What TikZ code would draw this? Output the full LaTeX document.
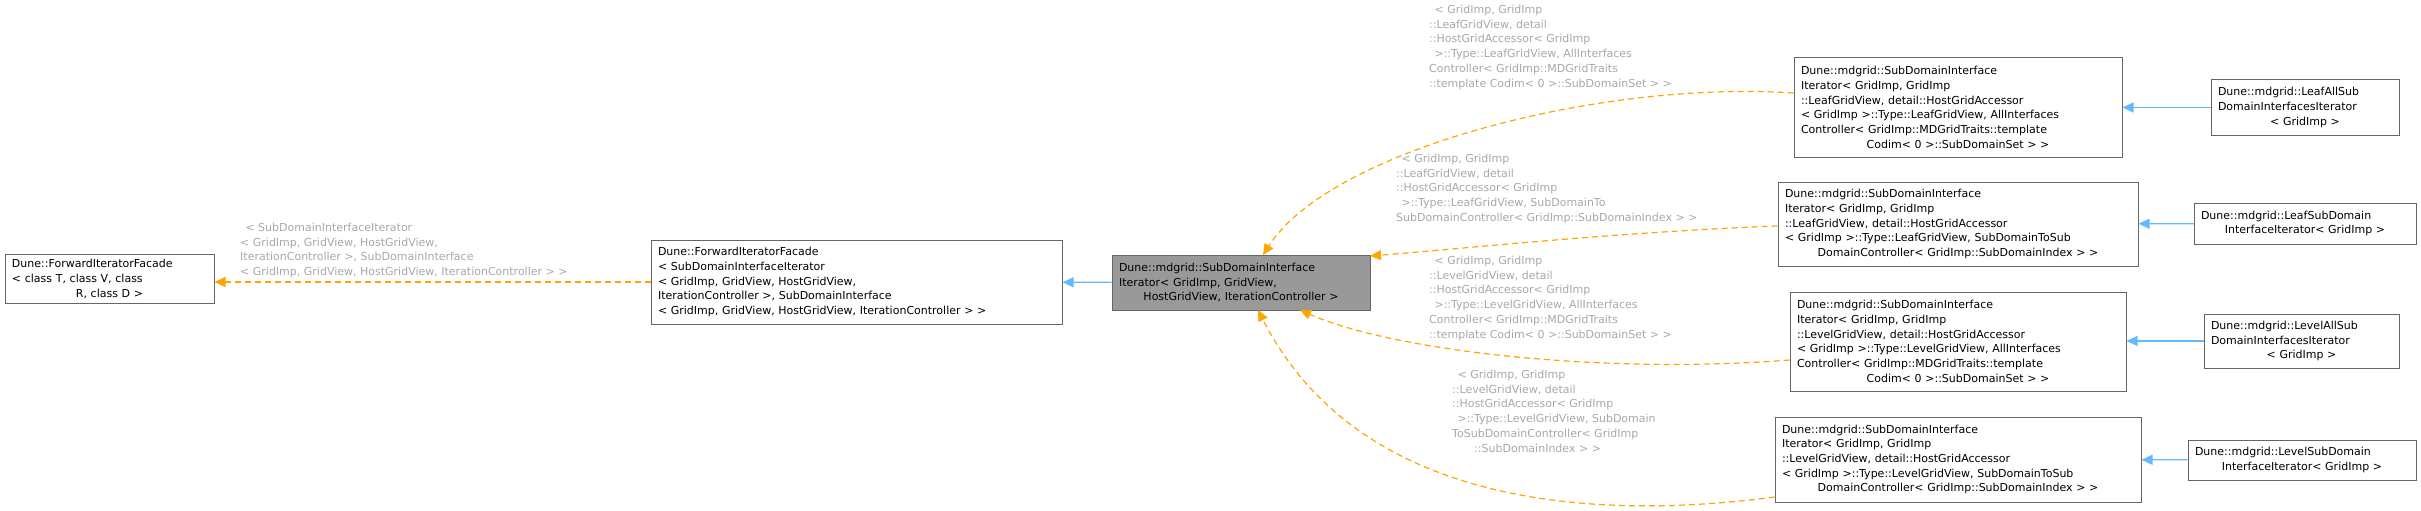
\documentclass[tikz,border=0pt]{standalone}
\usepackage{fontspec}
\setmainfont{DejaVu Sans}
\usetikzlibrary{arrows.meta}
\definecolor{bord}{HTML}{666666}
\definecolor{gfill}{HTML}{999999}
\definecolor{inh}{HTML}{63B8FF}
\definecolor{tmpl}{HTML}{FFA500}
\definecolor{lbl}{HTML}{A8A8A8}
\newcommand{\cln}[1]{\makebox[\linewidth][c]{#1}}
\tikzset{
 cls/.style={draw=bord, line width=1pt, fill=white, inner xsep=7pt, inner ysep=0pt, align=left,
   font=\fontsize{11}{14.7}\selectfont, anchor=center},
 cur/.style={cls, fill=gfill},
 pub/.style={-{Triangle[length=11pt,width=10pt,fill=inh]}, draw=inh, line width=1.2pt},
 tpl/.style={-{Triangle[length=11pt,width=10pt,fill=tmpl]}, draw=tmpl, line width=1.2pt, dash pattern=on 6pt off 4pt},
 lab/.style={text=lbl, align=left, inner sep=0pt, anchor=north west, font=\fontsize{11}{14.7}\selectfont}
}
\begin{document}
\begin{tikzpicture}[x=1pt,y=-1pt]
\useasboundingbox (0,0) rectangle (2421,511);
% nodes
\node[cls, text width=195pt, minimum height=49pt] (A) at (109.5,279) {Dune::ForwardIteratorFacade\\{}< class T, class V, class\\\cln{R, class D >}};
\node[cls, text width=397pt, minimum height=84pt] (B) at (856.5,282) {Dune::ForwardIteratorFacade\\{}< SubDomainInterfaceIterator\\{}< GridImp, GridView, HostGridView,\\ IterationController >, SubDomainInterface\\{}< GridImp, GridView, HostGridView, IterationController > >};
\node[cur, text width=244pt, minimum height=55pt] (C) at (1241,282.5) {Dune::mdgrid::SubDomainInterface\\Iterator< GridImp, GridView,\\\cln{HostGridView, IterationController >}};
\node[cls, text width=314pt, minimum height=99pt] (D1) at (1958,107.5) {Dune::mdgrid::SubDomainInterface\\Iterator< GridImp, GridImp\\::LeafGridView, detail::HostGridAccessor\\{}< GridImp >::Type::LeafGridView, AllInterfaces\\Controller< GridImp::MDGridTraits::template\\\cln{Codim< 0 >::SubDomainSet > >}};
\node[cls, text width=346pt, minimum height=84pt] (D2) at (1958,224) {Dune::mdgrid::SubDomainInterface\\Iterator< GridImp, GridImp\\::LeafGridView, detail::HostGridAccessor\\{}< GridImp >::Type::LeafGridView, SubDomainToSub\\\cln{DomainController< GridImp::SubDomainIndex > >}};
\node[cls, text width=322pt, minimum height=99pt] (D3) at (1958,341.5) {Dune::mdgrid::SubDomainInterface\\Iterator< GridImp, GridImp\\::LevelGridView, detail::HostGridAccessor\\{}< GridImp >::Type::LevelGridView, AllInterfaces\\Controller< GridImp::MDGridTraits::template\\\cln{Codim< 0 >::SubDomainSet > >}};
\node[cls, text width=352pt, minimum height=85pt] (D4) at (1958,459.5) {Dune::mdgrid::SubDomainInterface\\Iterator< GridImp, GridImp\\::LevelGridView, detail::HostGridAccessor\\{}< GridImp >::Type::LevelGridView, SubDomainToSub\\\cln{DomainController< GridImp::SubDomainIndex > >}};
\node[cls, text width=174pt, minimum height=55pt] (E1) at (2305,107.5) {Dune::mdgrid::LeafAllSub\\DomainInterfacesIterator\\\cln{< GridImp >}};
\node[cls, text width=208pt, minimum height=41pt] (E2) at (2305,223.5) {Dune::mdgrid::LeafSubDomain\\\cln{InterfaceIterator< GridImp >}};
\node[cls, text width=181pt, minimum height=54pt] (E3) at (2301.5,341) {Dune::mdgrid::LevelAllSub\\DomainInterfacesIterator\\\cln{< GridImp >}};
\node[cls, text width=214pt, minimum height=40pt] (E4) at (2302,460) {Dune::mdgrid::LevelSubDomain\\\cln{InterfaceIterator< GridImp >}};
% inheritance
\draw[pub] (E1) -- (D1);
\draw[pub] (E2) -- (D2);
\draw[pub] (E3.west) -- (D3.east |- E3.west);
\draw[pub] (E4) -- (D4);
\draw[pub] (C) -- (B);
% template edges
\draw[tpl] (B.west) -- (A.east |- B.west);
\draw[tpl] (D1.west |- 0,93) .. controls (1600,80) and (1330,150) .. (1263,255);
\draw[tpl] (D2.west |- 0,226) .. controls (1620,232) and (1470,248) .. (1370,256);
\draw[tpl] (D3.west |- 0,360) .. controls (1600,375) and (1390,350) .. (1300,310);
\draw[tpl] (D4.west |- 0,497) .. controls (1600,520) and (1360,510) .. (1258,310);
% labels
\node[lab] (l0) at (240,223) {\ \,< SubDomainInterfaceIterator\\{}< GridImp, GridView, HostGridView,\\IterationController >, SubDomainInterface\\{}< GridImp, GridView, HostGridView, IterationController > >};
\node[lab] (l1) at (1429,5) {\ \,< GridImp, GridImp\\::LeafGridView, detail\\::HostGridAccessor< GridImp\\\ \,>::Type::LeafGridView, AllInterfaces\\Controller< GridImp::MDGridTraits\\::template Codim< 0 >::SubDomainSet > >};
\node[lab] (l2) at (1396,154) {\ \,< GridImp, GridImp\\::LeafGridView, detail\\::HostGridAccessor< GridImp\\\ \,>::Type::LeafGridView, SubDomainTo\\SubDomainController< GridImp::SubDomainIndex > >};
\node[lab] (l3) at (1429,256) {\ \,< GridImp, GridImp\\::LevelGridView, detail\\::HostGridAccessor< GridImp\\\ \,>::Type::LevelGridView, AllInterfaces\\Controller< GridImp::MDGridTraits\\::template Codim< 0 >::SubDomainSet > >};
\node[lab] (l4) at (1452,370) {\ \,< GridImp, GridImp\\::LevelGridView, detail\\::HostGridAccessor< GridImp\\\ \,>::Type::LevelGridView, SubDomain\\ToSubDomainController< GridImp\\\hspace*{22pt}::SubDomainIndex > >};
\end{tikzpicture}
\end{document}
